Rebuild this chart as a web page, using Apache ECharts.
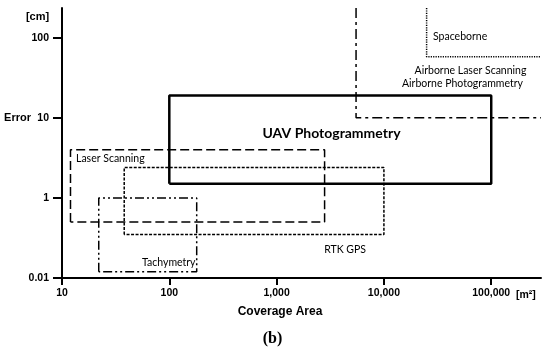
<!DOCTYPE html>
<html>
<head>
<meta charset="utf-8">
<script src="https://cdn.jsdelivr.net/npm/echarts@6/dist/echarts.min.js"></script>
<style>html,body{margin:0;padding:0;background:#fff}#c{width:550px;height:352px}</style>
</head>
<body>
<div id="c"></div>
<script>
// Axis ticks
const xTicks = [10, 100, 1000, 10000, 100000];
const xTickLabels = ['10', '100', '1,000', '10,000', '100,000'];
const yTicks = [0.1, 1, 10, 100];
const yTickLabels = ['0.01', '1', '10', '100'];
const xMin = 10, xMax = 291000;
const yMin = 0.1, yMax = 235;

// Closed boxes: coverage area (m²) and error (cm)
const boxNames = ['UAV Photogrammetry', 'Laser Scanning', 'RTK GPS', 'Tachymetry'];
const boxXMin = [100, 12, 38, 22];
const boxXMax = [100000, 2800, 10000, 180];
const boxYMin = [1.5, 0.5, 0.35, 0.12];
const boxYMax = [19, 4, 2.4, 1];

// Open regions (extend to top and right of the chart)
const openNames = ['Airborne', 'Spaceborne'];
const openX = [5500, 25000];
const openY = [10, 58];

const boxStyles = [
  {width: 2.5, type: 'solid'},
  {width: 1.5, type: [9, 4]},
  {width: 1.5, type: [3, 1.5]},
  {width: 1.5, type: [9, 3, 2, 3, 2, 3]}
];
const openStyles = [
  {width: 1.5, type: [10, 4, 3, 4]},
  {width: 1.5, type: [1.2, 1.2]}
];

const series = [];
boxNames.forEach((n, i) => {
  series.push({
    name: n, type: 'line', symbol: 'none', silent: true,
    lineStyle: Object.assign({color: '#000'}, boxStyles[i]),
    data: [[boxXMin[i], boxYMin[i]], [boxXMin[i], boxYMax[i]], [boxXMax[i], boxYMax[i]],
           [boxXMax[i], boxYMin[i]], [boxXMin[i], boxYMin[i]]]
  });
});
openNames.forEach((n, i) => {
  series.push({
    name: n, type: 'line', symbol: 'none', silent: true,
    lineStyle: Object.assign({color: '#000'}, openStyles[i]),
    data: [[openX[i], yMax], [openX[i], openY[i]], [xMax, openY[i]]]
  });
});

function nearestLabel(v, ticks, labels) {
  let best = 0, bd = Infinity;
  ticks.forEach((t, i) => { const d = Math.abs(Math.log10(v) - Math.log10(t)); if (d < bd) { bd = d; best = i; } });
  return labels[best];
}

const sans = 'Liberation Sans, Arial, sans-serif';
const cal = 'Lato, sans-serif';
function txt(x, y, s, opt) {
  return {type: 'text', x: x, y: y, style: Object.assign({text: s, fill: '#000', font: '10.5px ' + cal, textAlign: 'left', textVerticalAlign: 'middle'}, opt || {})};
}

const chart = echarts.init(document.getElementById('c'), null, {renderer: 'canvas'});
chart.setOption({
  animation: false,
  backgroundColor: '#fff',
  grid: {left: 62, top: 8, right: 9, bottom: 74, containLabel: false},
  xAxis: {
    type: 'log', logBase: 10, min: xMin, max: xMax,
    axisLine: {lineStyle: {color: '#000', width: 2}},
    axisTick: {show: true, customValues: xTicks, length: 7, lineStyle: {color: '#000', width: 2}},
    axisLabel: {customValues: xTicks, margin: 10, color: '#000', fontWeight: 'bold', fontSize: 10.5, fontFamily: sans,
      formatter: v => nearestLabel(v, xTicks, xTickLabels)},
    splitLine: {show: false}, minorTick: {show: false}
  },
  yAxis: {
    type: 'log', logBase: 10, min: yMin, max: yMax,
    axisLine: {show: true, lineStyle: {color: '#000', width: 2}},
    axisTick: {show: true, customValues: yTicks, length: 9, lineStyle: {color: '#000', width: 2}},
    axisLabel: {customValues: yTicks, margin: 13, color: '#000', fontWeight: 'bold', fontSize: 10.5, fontFamily: sans,
      formatter: v => nearestLabel(v, yTicks, yTickLabels)},
    splitLine: {show: false}, minorTick: {show: false}
  },
  series: series,
  graphic: [
    txt(37.5, 17, '[cm]', {font: 'bold 11px ' + sans, textAlign: 'center'}),
    txt(17.5, 118, 'Error', {font: 'bold 11px ' + sans, textAlign: 'center'}),
    txt(280, 312, 'Coverage Area', {font: 'bold 12px ' + sans, textAlign: 'center'}),
    txt(516, 295, '[m²]', {font: 'bold 10.5px ' + sans}),
    txt(272.5, 339, '(b)', {font: 'bold 16px Liberation Serif, serif', textAlign: 'center'}),
    txt(76, 159, 'Laser Scanning'),
    txt(142, 263, 'Tachymetry'),
    txt(366, 250, 'RTK GPS', {textAlign: 'right'}),
    txt(331.5, 133, 'UAV Photogrammetry', {font: 'bold 14px ' + cal, textAlign: 'center'}),
    txt(433, 37, 'Spaceborne'),
    txt(470.5, 71, 'Airborne Laser Scanning', {textAlign: 'center'}),
    txt(462.5, 84, 'Airborne Photogrammetry', {textAlign: 'center'})
  ]
});
</script>
</body>
</html>
